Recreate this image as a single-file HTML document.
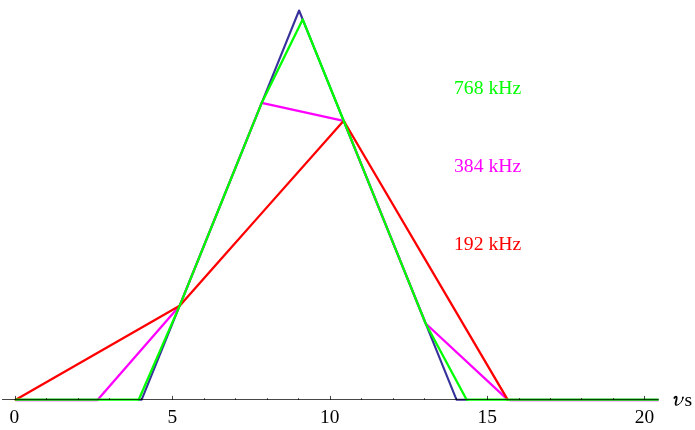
<!DOCTYPE html>
<html><head><meta charset="utf-8"><style>
html,body{margin:0;padding:0;background:#fff;}
body{width:695px;height:430px;overflow:hidden;position:relative;}
svg{position:absolute;left:0;top:0;will-change:transform;}
text{font-family:"Liberation Serif",serif;}
</style></head><body>
<svg width="695" height="430" viewBox="0 0 695 430">
<defs><clipPath id="c"><rect x="0" y="0" width="658.6" height="430"/></clipPath></defs>
<g clip-path="url(#c)" fill="none" stroke-width="2.3" stroke-linejoin="round" stroke-linecap="round">
<polyline stroke="#37329b" stroke-width="2.1" points="138.52,399.70 141.67,399.70 299.07,10.50 456.47,399.70 467.49,399.70"/>
<line stroke="#ff00ff" x1="15.75" y1="400.0" x2="97.598" y2="400.0"/>
<line stroke="#ff00ff" x1="509.986" y1="400.0" x2="660" y2="400.0"/>
<polyline stroke="#ff00ff" points="97.73,399.70 179.71,305.64 261.69,102.94 343.67,120.77 425.65,323.48 507.62,399.70"/>
<polyline stroke="#ff0000" points="15.75,399.70 179.71,305.64 343.67,120.77 507.62,399.70"/>
<polyline stroke="#00ff00" points="15.75,399.70 56.74,399.70 97.73,399.70 138.72,399.70 179.71,305.64 220.70,204.29 261.69,102.94 302.68,19.42 343.67,120.77 384.66,222.13 425.65,323.48 466.64,399.70 507.62,399.70 548.61,399.70 589.60,399.70 630.59,399.70 671.58,399.70"/>
</g>
<g stroke="#000" stroke-width="1" stroke-opacity="0.72">
<line x1="2" y1="399.5" x2="658.6" y2="399.5"/>
<line x1="15.50" y1="400.0" x2="15.50" y2="395.9"/><line x1="46.50" y1="400.0" x2="46.50" y2="398.2"/><line x1="78.50" y1="400.0" x2="78.50" y2="398.2"/><line x1="109.50" y1="400.0" x2="109.50" y2="398.2"/><line x1="141.50" y1="400.0" x2="141.50" y2="398.2"/><line x1="172.50" y1="400.0" x2="172.50" y2="395.9"/><line x1="204.50" y1="400.0" x2="204.50" y2="398.2"/><line x1="235.50" y1="400.0" x2="235.50" y2="398.2"/><line x1="267.50" y1="400.0" x2="267.50" y2="398.2"/><line x1="298.50" y1="400.0" x2="298.50" y2="398.2"/><line x1="330.50" y1="400.0" x2="330.50" y2="395.9"/><line x1="361.50" y1="400.0" x2="361.50" y2="398.2"/><line x1="393.50" y1="400.0" x2="393.50" y2="398.2"/><line x1="424.50" y1="400.0" x2="424.50" y2="398.2"/><line x1="456.50" y1="400.0" x2="456.50" y2="398.2"/><line x1="487.50" y1="400.0" x2="487.50" y2="395.9"/><line x1="519.50" y1="400.0" x2="519.50" y2="398.2"/><line x1="550.50" y1="400.0" x2="550.50" y2="398.2"/><line x1="581.50" y1="400.0" x2="581.50" y2="398.2"/><line x1="613.50" y1="400.0" x2="613.50" y2="398.2"/><line x1="644.50" y1="400.0" x2="644.50" y2="395.9"/>
</g>
<g font-size="19.4" fill="#000">
<text x="14.45" y="422.6" text-anchor="middle">0</text>
<text x="172.35" y="422.6" text-anchor="middle">5</text>
<text x="329.75" y="422.6" text-anchor="middle">10</text>
<text x="487.15" y="422.6" text-anchor="middle">15</text>
<text x="644.55" y="422.6" text-anchor="middle">20</text>
<path d="M674.1,398.6 C674.6,397.2 675.6,396.5 676.4,396.8 C677.2,397.2 676.6,399.4 676.0,401.4 C675.4,403.4 675.3,405.0 676.6,405.1" fill="none" stroke="#000" stroke-width="1.8"/>
<path d="M676.4,405.1 C678.2,405.4 680.6,403.2 681.8,401.0 C682.6,399.5 683.0,398.0 683.1,396.9" fill="none" stroke="#000" stroke-width="1.0"/>
<ellipse cx="682.8" cy="397.8" rx="0.8" ry="1.3" fill="#000" transform="rotate(20 682.8 397.8)"/>
<text x="684.5" y="405.7" font-size="19.6">s</text>
</g>
<g font-size="19.7">
<text x="454" y="93.6" fill="#00ff00">768 kHz</text>
<text x="454" y="172.1" fill="#ff00ff">384 kHz</text>
<text x="454" y="249.6" fill="#ff0000">192 kHz</text>
</g>
</svg>
</body></html>
